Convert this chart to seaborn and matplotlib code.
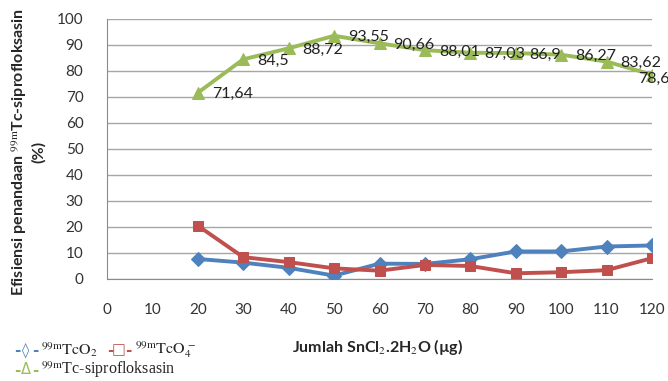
import pandas as pd
import matplotlib.pyplot as plt
import seaborn as sns

# --- Data ---
sncl2_ug = [20, 30, 40, 50, 60, 70, 80, 90, 100, 110, 120]
tco2 = [7.7, 6.3, 4.3, 1.3, 5.9, 5.8, 7.6, 10.6, 10.6, 12.5, 12.9]
tco4 = [20.5, 8.4, 6.5, 4.1, 3.2, 5.4, 5.0, 2.2, 2.6, 3.4, 8.0]
tc_sipro = [71.64, 84.5, 88.72, 93.55, 90.66, 88.01, 87.03, 86.9, 86.27, 83.62, 78.6]
sipro_labels = ['71,64', '84,5', '88,72', '93,55', '90,66', '88,01', '87,03', '86,9', '86,27', '83,62', '78,6']

df = pd.DataFrame({'x': sncl2_ug, 'TcO2': tco2, 'TcO4': tco4, 'sipro': tc_sipro})

sns.set_style('white')
plt.rcParams['font.family'] = ['Lato', 'DejaVu Sans']
plt.rcParams['mathtext.fontset'] = 'stix'

fig = plt.figure(figsize=(6.68, 3.81), dpi=100)
ax = fig.add_axes([107 / 668, 1 - 279 / 381, 545 / 668, 260 / 381])

blue, red, green = '#4F81BD', '#C0504D', '#9BBB59'
sns.lineplot(data=df, x='x', y='TcO2', ax=ax, color=blue, marker='D', markersize=7,
             linewidth=2.8, markeredgecolor=blue, zorder=3)
sns.lineplot(data=df, x='x', y='TcO4', ax=ax, color=red, marker='s', markersize=6.5,
             linewidth=2.8, markeredgecolor=red, zorder=3)
sns.lineplot(data=df, x='x', y='sipro', ax=ax, color=green, marker='^', markersize=9,
             linewidth=2.8, markeredgecolor=green, zorder=3)

# data labels to the right; the last one gets pushed down/left like in Excel
for i, (xv, yv, lab) in enumerate(zip(sncl2_ug, tc_sipro, sipro_labels)):
    off = (-10, -3) if i == len(sipro_labels) - 1 else (10, -1)
    ax.annotate(lab, (xv, yv), xytext=off, textcoords='offset points',
                ha='left', va='center', fontsize=11.5, color='#222222',
                annotation_clip=False, clip_on=False, zorder=4)

ax.set_xlim(0, 120)
ax.set_ylim(0, 100)
ax.set_xticks(range(0, 121, 10))
ax.set_yticks(range(0, 101, 10))
ax.tick_params(axis='both', labelsize=11, length=0, colors='#333333', pad=17)
ax.yaxis.grid(True, color='#A6A6A6', linewidth=1)
for side in ['top', 'right']:
    ax.spines[side].set_visible(False)
for side in ['left', 'bottom']:
    ax.spines[side].set_color('#8C8C8C')
ax.set_xlabel('')
ax.set_ylabel('')

fig.text(28 / 668, 1 - 152 / 381,
         'Efisiensi penandaan $^{\\mathrm{99m}}$Tc-siprofloksasin\n(%)',
         rotation=90, ha='center', va='center', multialignment='center',
         fontsize=11.5, fontweight='bold')

fig.text(292 / 668, 1 - 347 / 381, 'Jumlah SnCl$_2$.2H$_2$O (µg)', fontsize=11.5,
         fontweight='bold', ha='left', va='center')

# legend drawn as text, like the original image
ty1, ty2 = 1 - 350 / 381, 1 - 370 / 381
serif = 'Liberation Serif'


def legend_key(x_px, y, symbol, color):
    # dash, symbol, dash as separate texts so nothing overlaps
    fig.text(x_px / 668, y, '-', color=color, fontsize=11, fontweight='bold',
             family='DejaVu Sans', ha='center', va='center')
    fig.text((x_px + 9) / 668, y, symbol, color=color, fontsize=10.5,
             family='DejaVu Sans', ha='center', va='center')
    fig.text((x_px + 18) / 668, y, '-', color=color, fontsize=11, fontweight='bold',
             family='DejaVu Sans', ha='center', va='center')


legend_key(17, ty1, '◊', blue)
fig.text(41 / 668, ty1, '$^{\\mathrm{99m}}\\mathrm{TcO}_2$', fontsize=11.5, va='center')
legend_key(110, ty1, '□', red)
fig.text(135 / 668, ty1, '$^{\\mathrm{99m}}\\mathrm{TcO}_4^{\\,-}$', fontsize=11.5, va='center')
legend_key(17, ty2, 'Δ', green)
fig.text(41 / 668, ty2, '$^{\\mathrm{99m}}$Tc-siprofloksasin', fontsize=11.5, family=serif,
         va='center')

plt.savefig('out.png', dpi=100)
plt.close()
